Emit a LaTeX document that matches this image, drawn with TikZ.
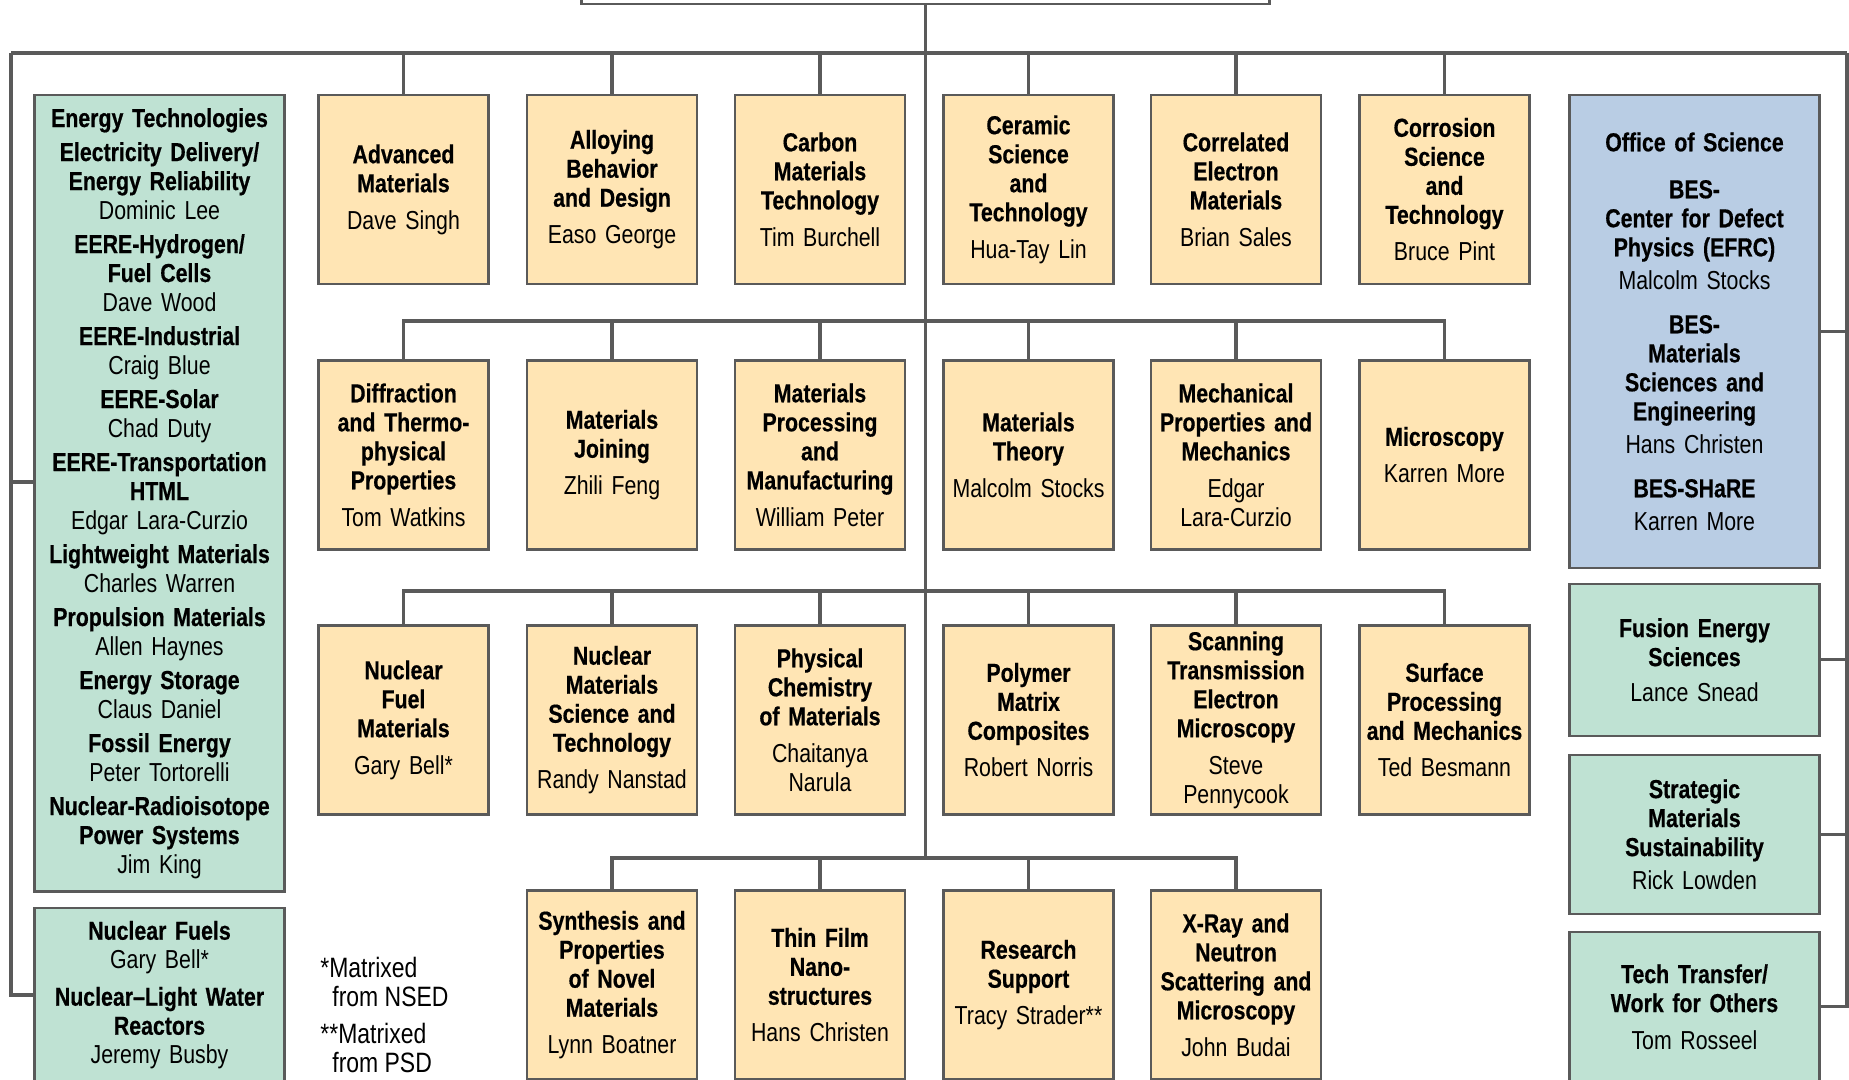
\documentclass[tikz,border=0pt]{standalone}
\usepackage{fontspec}
\setmainfont[FakeStretch = 0.82, BoldFeatures = {FakeBold = 0.5}]{Liberation Sans}
\definecolor{unitfill}{HTML}{FFE5B4}
\definecolor{progfill}{HTML}{BFE2D3}
\definecolor{scifill}{HTML}{B9CDE4}
\definecolor{wire}{HTML}{5A5A5A}

\begin{document}
\begin{tikzpicture}
          [x = 0.5pt, y = -0.5pt,
           every node/.style = {font = \fontsize{13}{14.5}\selectfont},
           boxed/.style = {draw = wire, line width = 1.1pt, inner sep = 0pt, align = center},
           unitbox/.style = {boxed, fill = unitfill, minimum width = 85pt,
                             minimum height = 94.5pt, text width = 84pt},
           progbox/.style = {boxed, fill = progfill, minimum width = 125pt, text width = 122pt},
           scibox/.style = {boxed, fill = scifill, minimum width = 125pt, text width = 122pt},
           bus/.style = {draw = wire, line width = 1.6pt}]
          \useasboundingbox (0,0) rectangle (1849,1080);

          % division box, cut off at the top
          \node[boxed, minimum width = 344pt, minimum height = 44pt] (lab) at (925.5,-40) {};

          % row 1
          \node[unitbox] (r1c1) at (403.5,189.5) {{\bfseries Advanced\\ Materials}\\[4pt] Dave Singh};
          \node[unitbox] (r1c2) at (612,189.5) {{\bfseries Alloying\\ Behavior\\ and Design}\\[4pt] Easo George};
          \node[unitbox] (r1c3) at (820,189.5) {{\bfseries Carbon\\ Materials\\ Technology}\\[4pt] Tim Burchell};
          \node[unitbox] (r1c4) at (1028.5,189.5) {{\bfseries Ceramic\\ Science\\ and\\ Technology}\\[4pt] Hua-Tay Lin};
          \node[unitbox] (r1c5) at (1236,189.5) {{\bfseries Correlated\\ Electron\\ Materials}\\[4pt] Brian Sales};
          \node[unitbox] (r1c6) at (1444.5,189.5) {{\bfseries Corrosion\\ Science\\ and\\ Technology}\\[4pt] Bruce Pint};

          % row 2
          \node[unitbox] (r2c1) at (403.5,455) {{\bfseries Diffraction\\ and Thermo-\\ physical\\ Properties}\\[4pt] Tom Watkins};
          \node[unitbox] (r2c2) at (612,455) {{\bfseries Materials\\ Joining}\\[4pt] Zhili Feng};
          \node[unitbox] (r2c3) at (820,455) {{\bfseries Materials\\ Processing\\ and\\ Manufacturing}\\[4pt] William Peter};
          \node[unitbox] (r2c4) at (1028.5,455) {{\bfseries Materials\\ Theory}\\[4pt] Malcolm Stocks};
          \node[unitbox] (r2c5) at (1236,455) {{\bfseries Mechanical\\ Properties and\\ Mechanics}\\[4pt] Edgar\\ Lara-Curzio};
          \node[unitbox] (r2c6) at (1444.5,455) {{\bfseries Microscopy}\\[4pt] Karren More};

          % row 3
          \node[unitbox] (r3c1) at (403.5,720) {{\bfseries Nuclear\\ Fuel\\ Materials}\\[4pt] Gary Bell*};
          \node[unitbox] (r3c2) at (612,720) {{\bfseries Nuclear\\ Materials\\ Science and\\ Technology}\\[4pt] Randy Nanstad};
          \node[unitbox] (r3c3) at (820,720) {{\bfseries Physical\\ Chemistry\\ of Materials}\\[4pt] Chaitanya\\ Narula};
          \node[unitbox] (r3c4) at (1028.5,720) {{\bfseries Polymer\\ Matrix\\ Composites}\\[4pt] Robert Norris};
          \node[unitbox] (r3c5) at (1236,720) {{\bfseries Scanning\\ Transmission\\ Electron\\ Microscopy}\\[4pt] Steve\\ Pennycook};
          \node[unitbox] (r3c6) at (1444.5,720) {{\bfseries Surface\\ Processing\\ and Mechanics}\\[4pt] Ted Besmann};

          % row 4
          \node[unitbox] (r4c2) at (612,985) {{\bfseries Synthesis and\\ Properties\\ of Novel\\ Materials}\\[4pt] Lynn Boatner};
          \node[unitbox] (r4c3) at (820,985) {{\bfseries Thin Film\\ Nano-\\ structures}\\[4pt] Hans Christen};
          \node[unitbox] (r4c4) at (1028.5,985) {{\bfseries Research\\ Support}\\[4pt] Tracy Strader**};
          \node[unitbox] (r4c5) at (1236,985) {{\bfseries X-Ray and\\ Neutron\\ Scattering and\\ Microscopy}\\[4pt] John Budai};

          % programs, left
          \node[progbox, minimum height = 398.25pt] (et) at (159.5,493.3)
            {{\bfseries Energy Technologies}\\[2.5pt]
             {\bfseries Electricity Delivery/\\ Energy Reliability}\\ Dominic Lee\\[2.5pt]
             {\bfseries EERE-Hydrogen/\\ Fuel Cells}\\ Dave Wood\\[2.5pt]
             {\bfseries EERE-Industrial}\\ Craig Blue\\[2.5pt]
             {\bfseries EERE-Solar}\\ Chad Duty\\[2.5pt]
             {\bfseries EERE-Transportation\\ HTML}\\ Edgar Lara-Curzio\\[2.5pt]
             {\bfseries Lightweight Materials}\\ Charles Warren\\[2.5pt]
             {\bfseries Propulsion Materials}\\ Allen Haynes\\[2.5pt]
             {\bfseries Energy Storage}\\ Claus Daniel\\[2.5pt]
             {\bfseries Fossil Energy}\\ Peter Tortorelli\\[2.5pt]
             {\bfseries Nuclear-Radioisotope\\ Power Systems}\\ Jim King};
          \node[progbox, minimum height = 87pt] (nf) at (159.5,995)
            {{\bfseries Nuclear Fuels}\\ Gary Bell*\\[4pt]
             {\bfseries Nuclear--Light Water\\ Reactors}\\ Jeremy Busby};

          % programs, right
          \node[scibox, minimum height = 236.7pt] (os) at (1694.5,331.5)
            {{\bfseries Office of Science}\\[9pt]
             {\bfseries BES-\\ Center for Defect\\ Physics (EFRC)}\\[2pt] Malcolm Stocks\\[7.5pt]
             {\bfseries BES-\\ Materials\\ Sciences and\\ Engineering}\\[2pt] Hans Christen\\[7.5pt]
             {\bfseries BES-SHaRE}\\[2pt] Karren More};
          \node[progbox, minimum height = 76pt] (fe) at (1694.5,659.8)
            {{\bfseries Fusion Energy\\ Sciences}\\[3pt] Lance Snead};
          \node[progbox, minimum height = 79.6pt] (sm) at (1694.5,834.3)
            {{\bfseries Strategic\\ Materials\\ Sustainability}\\[2pt] Rick Lowden};
          \node[progbox, minimum height = 75.2pt] (tt) at (1694.5,1006.8)
            {{\bfseries Tech Transfer/\\ Work for Others}\\[4pt] Tom Rosseel};

          \node[anchor = west, align = left, inner sep = 0pt,
                font = \fontsize{14}{14.75}\selectfont] (note) at (320,1015)
            {*Matrixed\\ \hspace*{6pt}from NSED\\[3.5pt] **Matrixed\\ \hspace*{6pt}from PSD};

          % buses
          \coordinate (nw) at (11,53);
          \coordinate (ne) at (1847,53);
          \coordinate (hub2) at (925.5,321);
          \coordinate (hub3) at (925.5,591);
          \coordinate (hub4) at (925.5,858);
          \coordinate (etjoin) at (11,482);
          \draw[bus] (nw) -- (ne);
          \draw[bus] (lab.south) -- (hub4);
          \draw[bus] (nw) |- (nf.west);
          \draw[bus] (etjoin) -- (et.west |- etjoin);
          \draw[bus] (ne) |- (tt.east);
          \draw[bus] (os.east) -- (os.east -| ne);
          \draw[bus] (fe.east) -- (fe.east -| ne);
          \draw[bus] (sm.east) -- (sm.east -| ne);
          \foreach \c in {1,...,6}
            \draw[bus] (r1c\c.north) -- (r1c\c.north |- nw);
          \draw[bus] (r2c1.north) |- (hub2) -| (r2c6.north);
          \draw[bus] (r3c1.north) |- (hub3) -| (r3c6.north);
          \draw[bus] (r4c2.north) |- (hub4) -| (r4c5.north);
          \foreach \c in {2,...,5} {
            \draw[bus] (r2c\c.north) -- (r2c\c.north |- hub2);
            \draw[bus] (r3c\c.north) -- (r3c\c.north |- hub3);
          }
          \foreach \c in {3,4}
            \draw[bus] (r4c\c.north) -- (r4c\c.north |- hub4);
        \end{tikzpicture}
\end{document}
